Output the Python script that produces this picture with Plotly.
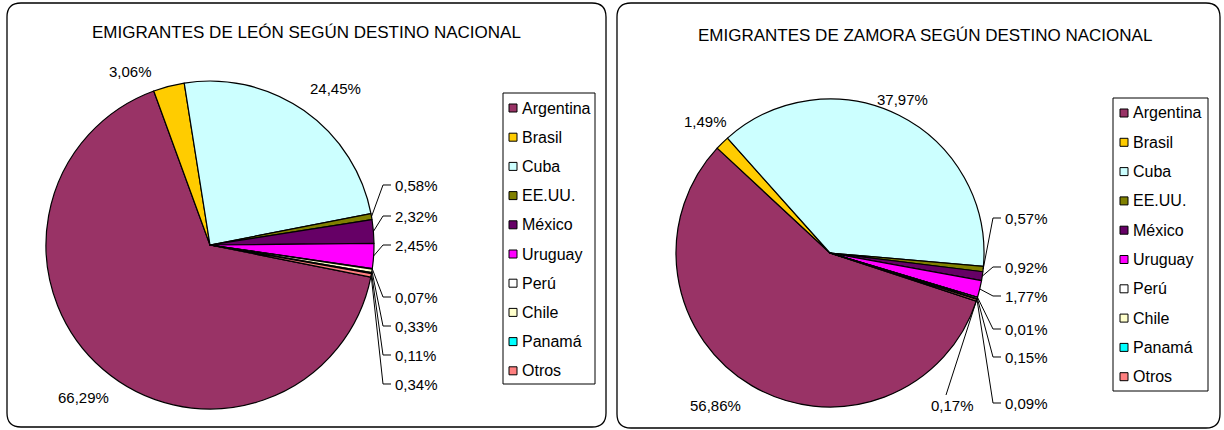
import plotly.graph_objects as go
import math

# ---------------- data ----------------
countries = ["Argentina", "Brasil", "Cuba", "EE.UU.", "México", "Uruguay",
             "Perú", "Chile", "Panamá", "Otros"]
leon_pct = [66.29, 3.06, 24.45, 0.58, 2.32, 2.45, 0.07, 0.33, 0.11, 0.34]
zamora_pct = [56.86, 1.49, 37.97, 0.57, 0.92, 1.77, 0.01, 0.15, 0.09, 0.17]
titles = ["EMIGRANTES DE LEÓN SEGÚN DESTINO NACIONAL",
          "EMIGRANTES DE ZAMORA SEGÚN DESTINO NACIONAL"]

# ---------------- style / layout ----------------
colors = ["#993366", "#FFCC00", "#CCFFFF", "#808000", "#660066", "#FF00FF",
          "#FFFFFF", "#FFFFCC", "#00FFFF", "#FF8080"]
W, H = 1224, 430
FONT = "Liberation Sans, Arial, sans-serif"

# pixel layout of each panel
panels = [
    dict(values=leon_pct, title=titles[0], box=(7, 3, 606, 427),
         title_xy=(306, 32), center=(210, 245), r=164, rotation=101.3,
         legend_box=(503, 93, 595, 384), legend_y0=108, legend_dy=29.2,
         legend_sq_x=509, legend_tx=520,
         # label positions (px): (x, y, xanchor, leader)
         labels=[(83, 397, "center", False), (130, 71, "center", False),
                 (335, 88, "center", False), (393, 185, "left", True),
                 (393, 216, "left", True), (393, 245, "left", True),
                 (393, 297, "left", True), (393, 326, "left", True),
                 (393, 355, "left", True), (393, 384, "left", True)]),
    dict(values=zamora_pct, title=titles[1], box=(617, 3, 1220, 428),
         title_xy=(925, 35), center=(830, 253), r=154, rotation=108.2,
         legend_box=(1113, 98, 1208, 391), legend_y0=113, legend_dy=29.3,
         legend_sq_x=1120, legend_tx=1131,
         labels=[(715, 405, "center", False), (706, 122, "center", False),
                 (902, 99, "center", False), (1003, 218, "left", True),
                 (1003, 267, "left", True), (1003, 296, "left", True),
                 (1003, 329, "left", True), (1003, 357, "left", True),
                 (1003, 403, "left", True), (952, 405, "below", True)]),
]


def X(px):
    return px / W


def Y(py):
    return 1 - py / H


def rrect_path(x0, y0, x1, y1, r):
    pts = [
        ("M", [(x0 + r, y0)]), ("L", [(x1 - r, y0)]), ("Q", [(x1, y0), (x1, y0 + r)]),
        ("L", [(x1, y1 - r)]), ("Q", [(x1, y1), (x1 - r, y1)]),
        ("L", [(x0 + r, y1)]), ("Q", [(x0, y1), (x0, y1 - r)]),
        ("L", [(x0, y0 + r)]), ("Q", [(x0, y0), (x0 + r, y0)]),
    ]
    s = ""
    for cmd, ps in pts:
        s += cmd + " ".join(f"{X(a):.5f},{Y(b):.5f}" for a, b in ps) + " "
    return s + "Z"


def fmt(v):
    return f"{v:.2f}".replace(".", ",") + "%"


fig = go.Figure()
shapes = []
annotations = []

for p in panels:
    # panel frame
    shapes.append(dict(type="path", xref="paper", yref="paper",
                       path=rrect_path(*p["box"], 14),
                       line=dict(color="black", width=1.3), fillcolor="white",
                       layer="below"))
    cx, cy = p["center"]
    r = p["r"]
    fig.add_trace(go.Pie(
        labels=countries, values=p["values"], sort=False,
        direction="clockwise", rotation=p["rotation"],
        marker=dict(colors=colors, line=dict(color="black", width=1.2)),
        textinfo="none", showlegend=False,
        domain=dict(x=[X(cx - r), X(cx + r)], y=[Y(cy + r), Y(cy - r)]),
        hovertemplate="%{label}: %{value}%<extra></extra>",
    ))
    # title
    tx, ty = p["title_xy"]
    annotations.append(dict(text=p["title"], x=X(tx), y=Y(ty), xref="paper",
                            yref="paper", showarrow=False, xanchor="center",
                            yanchor="middle",
                            font=dict(family=FONT, size=17, color="black")))
    # labels + leader lines
    total = sum(p["values"])
    cum = 0.0
    for v, (lx, ly, anc, leader) in zip(p["values"], p["labels"]):
        mid = p["rotation"] + (cum + v / 2) / total * 360
        cum += v
        a = math.radians(mid)
        ax, ay = cx + r * math.sin(a), cy - r * math.cos(a)
        xa = "left" if anc == "left" else "center"
        annotations.append(dict(text=fmt(v), x=X(lx), y=Y(ly), xref="paper",
                                yref="paper", showarrow=False, xanchor=xa,
                                yanchor="middle",
                                font=dict(family=FONT, size=15, color="black")))
        if leader:
            if anc == "left":
                pts = [(ax, ay), (lx - 10, ly), (lx - 2, ly)]
            else:
                pts = [(ax, ay), (lx - 6, ly - 10)]
            path = "M" + " L".join(f"{X(a_):.5f},{Y(b_):.5f}" for a_, b_ in pts)
            shapes.append(dict(type="path", xref="paper", yref="paper", path=path,
                               line=dict(color="black", width=1)))
    # legend
    bx0, by0, bx1, by1 = p["legend_box"]
    shapes.append(dict(type="rect", xref="paper", yref="paper",
                       x0=X(bx0), x1=X(bx1), y0=Y(by1), y1=Y(by0),
                       line=dict(color="black", width=1), fillcolor="white"))
    for i, (name, col) in enumerate(zip(countries, colors)):
        yy = p["legend_y0"] + i * p["legend_dy"]
        sx = p["legend_sq_x"]
        shapes.append(dict(type="rect", xref="paper", yref="paper",
                           x0=X(sx), x1=X(sx + 8), y0=Y(yy + 4), y1=Y(yy - 4),
                           line=dict(color="black", width=1), fillcolor=col))
        annotations.append(dict(text=name, x=X(p["legend_tx"]), y=Y(yy),
                                xref="paper", yref="paper", showarrow=False,
                                xanchor="left", yanchor="middle",
                                font=dict(family=FONT, size=16, color="black")))

fig.update_layout(width=W, height=H, margin=dict(l=0, r=0, t=0, b=0),
                  paper_bgcolor="white", plot_bgcolor="white",
                  shapes=shapes, annotations=annotations)

fig.write_html("out.html", config={"displayModeBar": False},
               post_script="document.body.style.margin='0';"
                           "document.body.style.overflow='hidden';")
